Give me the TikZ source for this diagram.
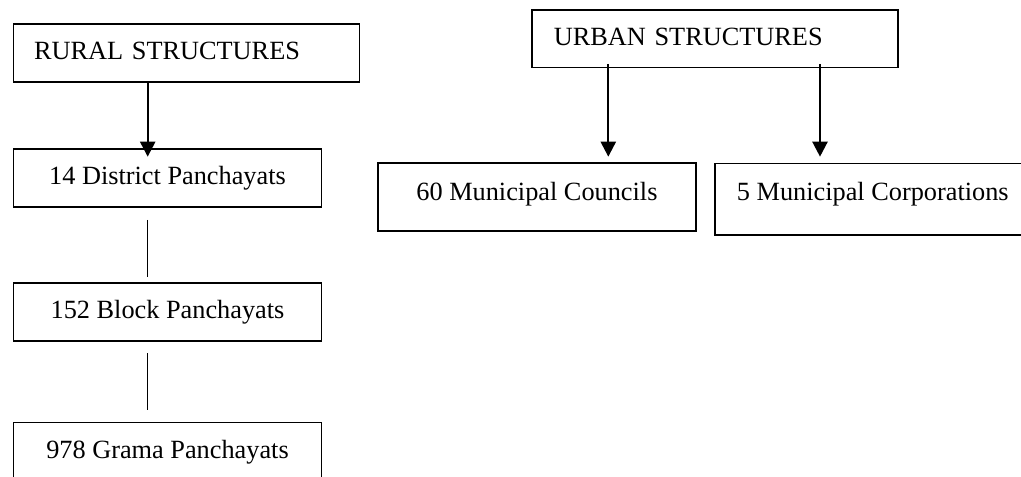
\documentclass[tikz,border=0pt]{standalone}
\usepackage{fontspec}
\setmainfont{Liberation Serif}
\usepackage{tikz}
\usetikzlibrary{arrows.meta}

\begin{document}
\begin{tikzpicture}[x=1bp,y=-1bp,
  box/.style={draw,line width=1.6bp,inner ysep=0pt,text height=35.7bp,text depth=22bp,
    font=\fontsize{26.3bp}{30bp}\selectfont,anchor=north west},
  down/.style={line width=2.3bp,-{Triangle[width=15bp,length=15bp]}},
  link/.style={line width=1.2bp}]
\useasboundingbox (0,0) rectangle (1021,477);
\clip (0,0) rectangle (1021,477);

% rural side
\node[box,text width=305bp,inner xsep=20.5bp,align=left] (rural) at (12.7,23.3) {RURAL STRUCTURES};
\node[box,minimum width=308bp] (district) at (12.7,148.3) {14 District Panchayats};
\node[box,minimum width=308bp] (block) at (12.7,282.3) {152 Block Panchayats};
\node[box,minimum width=308bp] (grama) at (12.7,421.7) {978 Grama Panchayats};

\coordinate (rx) at (147.7,0);
\draw[down,shorten >=-8.4bp] (rural.south -| rx) -- (district.north -| rx);
\draw[link,shorten <=12.3bp,shorten >=5.6bp] (district.south -| rx) -- (block.north -| rx);
\draw[link,shorten <=11.7bp,shorten >=11.7bp] (block.south -| rx) -- (grama.north -| rx);

% urban side
\node[box,text width=322bp,inner xsep=22bp,align=left] (urban) at (531,9) {URBAN STRUCTURES};
\node[box,minimum width=317.7bp,text height=37.7bp,text depth=30bp] (council) at (377.3,162.3) {60 Municipal Councils};
\node[box,minimum width=316bp,text height=37.3bp,text depth=34bp] (corp) at (714,162.7) {5 Municipal Corporations};

\coordinate (ua) at (608.3,0);
\coordinate (ub) at (820,0);
\draw[down,shorten <=-4.3bp,shorten >=5.6bp] (urban.south -| ua) -- (council.north -| ua);
\draw[down,shorten <=-4.3bp,shorten >=6bp] (urban.south -| ub) -- (corp.north -| ub);

\end{tikzpicture}
\end{document}
